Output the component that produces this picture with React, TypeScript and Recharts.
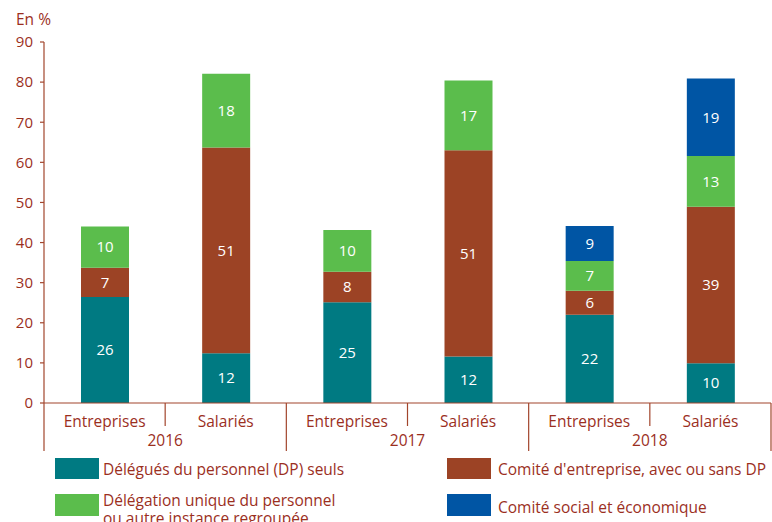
import React from "react";
import { BarChart, Bar, XAxis, YAxis, LabelList } from "recharts";

const categories = ["Entreprises", "Salariés", "Entreprises", "Salariés", "Entreprises", "Salariés"];
const years = ["2016", "2016", "2017", "2017", "2018", "2018"];
const dpSeuls = [26.4, 12.4, 25.1, 11.6, 22.0, 9.9];
const comiteEntreprise = [7.3, 51.3, 7.6, 51.4, 6.0, 39.0];
const delegationUnique = [10.3, 18.4, 10.4, 17.4, 7.4, 12.7];
const comiteSocial = [null, null, null, null, 8.7, 19.3];
const yTicks = [0, 10, 20, 30, 40, 50, 60, 70, 80, 90];

const seriesNames = {
  dp: "Délégués du personnel (DP) seuls",
  ce: "Comité d'entreprise, avec ou sans DP",
  dup: ["Délégation unique du personnel", "ou autre instance regroupée"],
  cse: "Comité social et économique",
};

const data = categories.map((c, i) => ({
  cat: c,
  year: years[i],
  dp: dpSeuls[i],
  ce: comiteEntreprise[i],
  dup: delegationUnique[i],
  cse: comiteSocial[i],
}));

const COLORS = { dp: "#007A82", ce: "#9C4325", dup: "#5BBD4C", cse: "#0055A4" };
const TEXT = "#9B2F1E";
const AXIS = "#A2452C";
const FONT = "'Open Sans', sans-serif";
const WIDTH = 772;
const HEIGHT = 522;
const PLOT_LEFT = 44;
const PLOT_RIGHT = 1;
const BAND = (WIDTH - PLOT_LEFT - PLOT_RIGHT) / categories.length;

const fmt = (v: any) => (v == null ? "" : String(Math.round(Number(v))));

function XTick(props: any) {
  const { x, y, payload, index } = props;
  const i = index ?? payload.index;
  const year = years[i];
  return (
    <g>
      <text x={x} y={y + 19} dy="0.35em" textAnchor="middle" fill={TEXT} fontSize={15.5} fontFamily={FONT}>
        {payload.value}
      </text>
      {i % 2 === 0 && (
        <>
          <text x={x + BAND / 2} y={y + 38} dy="0.35em" textAnchor="middle" fill={TEXT} fontSize={15.5} fontFamily={FONT}>
            {year}
          </text>
          <line x1={x + BAND / 2} y1={y} x2={x + BAND / 2} y2={y + 23} stroke={AXIS} strokeWidth={1.2} />
          <line x1={x - BAND / 2} y1={y} x2={x - BAND / 2} y2={y + 48} stroke={AXIS} strokeWidth={1.2} />
        </>
      )}
      {i === categories.length - 1 && (
        <line x1={x + BAND / 2} y1={y} x2={x + BAND / 2} y2={y + 48} stroke={AXIS} strokeWidth={1.2} />
      )}
    </g>
  );
}

const labelStyle = { fill: "#ffffff", fontSize: 15, fontFamily: FONT };

function Swatch({ left, top, color, h = 21 }: any) {
  return <div style={{ position: "absolute", left, top, width: 44, height: h, background: color }} />;
}

export default function App() {
  const textStyle: React.CSSProperties = {
    position: "absolute",
    color: TEXT,
    fontFamily: FONT,
    fontSize: 15.5,
    lineHeight: "18px",
    whiteSpace: "nowrap",
  };
  return (
    <div style={{ position: "relative", width: WIDTH, height: HEIGHT, overflow: "hidden", background: "#fff" }}>
      <style>{"body{margin:0}"}</style>
      <div style={{ ...textStyle, left: 16, top: 10 }}>En %</div>
      <BarChart
        width={WIDTH}
        height={HEIGHT}
        data={data}
        margin={{ top: 42, right: PLOT_RIGHT, left: 0, bottom: 69 }}
        barSize={48}
      >
        <YAxis
          width={PLOT_LEFT}
          domain={[0, 90]}
          ticks={yTicks}
          interval={0}
          tickSize={4}
          tickMargin={7}
          axisLine={{ stroke: AXIS, strokeWidth: 1.2 }}
          tickLine={{ stroke: AXIS, strokeWidth: 1.2 }}
          tick={{ fill: TEXT, fontSize: 15, fontFamily: FONT }}
        />
        <XAxis
          dataKey="cat"
          height={50}
          interval={0}
          tickSize={0}
          tickMargin={0}
          tickLine={false}
          axisLine={{ stroke: AXIS, strokeWidth: 1.2 }}
          tick={<XTick />}
        />
        <Bar dataKey="dp" stackId="a" fill={COLORS.dp} isAnimationActive={false}>
          <LabelList dataKey="dp" position="center" formatter={fmt} style={labelStyle} />
        </Bar>
        <Bar dataKey="ce" stackId="a" fill={COLORS.ce} isAnimationActive={false}>
          <LabelList dataKey="ce" position="center" formatter={fmt} style={labelStyle} />
        </Bar>
        <Bar dataKey="dup" stackId="a" fill={COLORS.dup} isAnimationActive={false}>
          <LabelList dataKey="dup" position="center" formatter={fmt} style={labelStyle} />
        </Bar>
        <Bar dataKey="cse" stackId="a" fill={COLORS.cse} isAnimationActive={false}>
          <LabelList dataKey="cse" position="center" formatter={fmt} style={labelStyle} />
        </Bar>
      </BarChart>
      <Swatch left={55} top={458} color={COLORS.dp} />
      <div style={{ ...textStyle, left: 103, top: 460 }}>{seriesNames.dp}</div>
      <Swatch left={447} top={458} color={COLORS.ce} />
      <div style={{ ...textStyle, left: 498, top: 460 }}>{seriesNames.ce}</div>
      <Swatch left={55} top={494} color={COLORS.dup} h={22} />
      <div style={{ ...textStyle, left: 103, top: 491 }}>
        {seriesNames.dup[0]}
        <br />
        {seriesNames.dup[1]}
      </div>
      <Swatch left={447} top={494} color={COLORS.cse} h={22} />
      <div style={{ ...textStyle, left: 498, top: 498 }}>{seriesNames.cse}</div>
    </div>
  );
}
